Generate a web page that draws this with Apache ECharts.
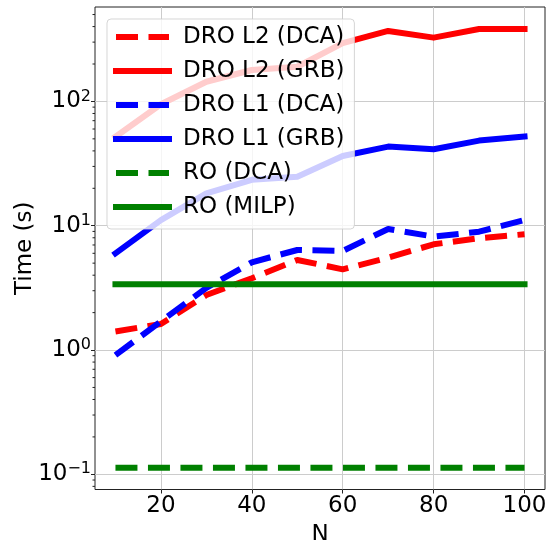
<!DOCTYPE html>
<html><head><meta charset="utf-8">
<script src="https://cdn.jsdelivr.net/npm/echarts@6/dist/echarts.min.js"></script>
<style>html,body{margin:0;padding:0;background:#fff}#c{width:548px;height:540px}</style>
</head><body><div id="c"></div>
<script>
const N = [10, 20, 30, 40, 50, 60, 70, 80, 90, 100];
const droL2DCA = [1.41, 1.62, 2.77, 3.78, 5.30, 4.46, 5.53, 7.09, 7.93, 8.54];
const droL2GRB = [52, 95, 144, 179, 190, 294, 369, 326, 383, 383];
const droL1DCA = [0.91, 1.70, 3.16, 5.08, 6.38, 6.27, 9.42, 8.17, 8.96, 11.1];
const droL1GRB = [6.0, 11.1, 18.2, 23.4, 24.8, 36.4, 43.3, 41.2, 48.4, 52.1];
const roDCA = [0.113, 0.113, 0.113, 0.113, 0.113, 0.113, 0.113, 0.113, 0.113, 0.113];
const roMILP = [3.38, 3.38, 3.38, 3.38, 3.38, 3.38, 3.38, 3.38, 3.38, 3.38];
const seriesNames = ['DRO L2 (DCA)', 'DRO L2 (GRB)', 'DRO L1 (DCA)', 'DRO L1 (GRB)', 'RO (DCA)', 'RO (MILP)'];
const xTicks = [20, 40, 60, 80, 100];
const yTicks = [0.1, 1, 10, 100];
const yTickExps = ['\u22121', '0', '1', '2'];
const yMinorTicks = [0.08, 0.09, 0.2, 0.3, 0.4, 0.5, 0.6, 0.7, 0.8, 0.9, 2, 3, 4, 5, 6, 7, 8, 9, 20, 30, 40, 50, 60, 70, 80, 90, 200, 300, 400, 500];
const X_MIN = 5.5, X_MAX = 104.5, Y_MIN = 0.0755, Y_MAX = 575;

const FONT = 'DejaVu Sans';
const chart = echarts.init(document.getElementById('c'), null, {renderer: 'canvas'});
const zip = ys => N.map((n, i) => [n, ys[i]]);
function lineSeries(name, ys, color, dashed) {
  return {
    name, type: 'line', data: zip(ys), symbol: 'none', silent: true,
    lineStyle: {color, width: 6, type: dashed ? [22, 10.5] : 'solid', cap: dashed ? 'butt' : 'square', join: 'round'},
    itemStyle: {color}, animation: false
  };
}
const option = {
  animation: false,
  textStyle: {fontFamily: FONT},
  grid: {left: 95, right: 3, top: 7, bottom: 50.5, show: true, borderColor: '#222', borderWidth: 1,
    backgroundColor: 'transparent', containLabel: false, outerBoundsMode: 'none'},
  xAxis: {
    type: 'value', min: X_MIN, max: X_MAX,
    name: 'N', nameLocation: 'middle', nameGap: 34, nameMoveOverlap: false,
    nameTextStyle: {fontSize: 23, color: '#000', fontFamily: FONT},
    axisLine: {show: false},
    axisTick: {show: true, length: 4, lineStyle: {color: '#222'}, customValues: xTicks},
    axisLabel: {fontSize: 23, color: '#000', fontFamily: FONT, margin: 5, customValues: xTicks},
    splitLine: {show: true, lineStyle: {color: '#cccccc', width: 1}}
  },
  yAxis: {
    type: 'log', logBase: 10, min: Y_MIN, max: Y_MAX,
    name: 'Time (s)', nameLocation: 'middle', nameGap: 58, nameMoveOverlap: false,
    nameTextStyle: {fontSize: 23, color: '#000', fontFamily: FONT},
    axisLine: {show: false},
    axisTick: {show: true, length: 4, lineStyle: {color: '#222'}, customValues: yTicks},
    axisLabel: {color: '#000', fontFamily: FONT, margin: 4, customValues: yTicks,
      formatter: v => { const i = yTicks.findIndex(t => Math.abs(t - v) / t < 1e-6); return i >= 0 ? '{b|10}{s|' + yTickExps[i] + '}' : ''; },
      rich: {
        b: {fontSize: 23, fontFamily: FONT, color: '#000', lineHeight: 26},
        s: {fontSize: 16, fontFamily: FONT, color: '#000', verticalAlign: 'top', lineHeight: 16}
      }},
    splitLine: {show: true, lineStyle: {color: '#cccccc', width: 1}}
  },
  legend: {
    data: seriesNames, orient: 'vertical', left: 107, top: 19,
    padding: [5, 10, 9, 6], itemGap: 8, itemWidth: 53, itemHeight: 14,
    backgroundColor: 'rgba(255,255,255,0.8)', borderColor: 'rgba(204,204,204,0.8)', borderWidth: 1, borderRadius: 4,
    textStyle: {fontSize: 23, color: '#000', fontFamily: FONT, lineHeight: 26, padding: [0, 0, 0, 9]},
    lineStyle: {width: 6}, itemStyle: {color: 'rgba(0,0,0,0)', borderWidth: 0, opacity: 0},
    selectedMode: false, z: 10
  },
  series: [
    lineSeries(seriesNames[0], droL2DCA, '#ff0000', true),
    lineSeries(seriesNames[1], droL2GRB, '#ff0000', false),
    lineSeries(seriesNames[2], droL1DCA, '#0000ff', true),
    lineSeries(seriesNames[3], droL1GRB, '#0000ff', false),
    lineSeries(seriesNames[4], roDCA, '#008000', true),
    lineSeries(seriesNames[5], roMILP, '#008000', false),
    {
      type: 'custom', name: 'minorTicks', silent: true, clip: false, z: 5,
      data: yMinorTicks.map(v => [X_MIN, v]),
      renderItem: (params, api) => {
        const p = api.coord([api.value(0), api.value(1)]);
        return {type: 'line', shape: {x1: p[0] - 2.5, y1: p[1], x2: p[0], y2: p[1]}, style: {stroke: '#222', lineWidth: 1}};
      }
    }
  ]
};
chart.setOption(option);
</script></body></html>
